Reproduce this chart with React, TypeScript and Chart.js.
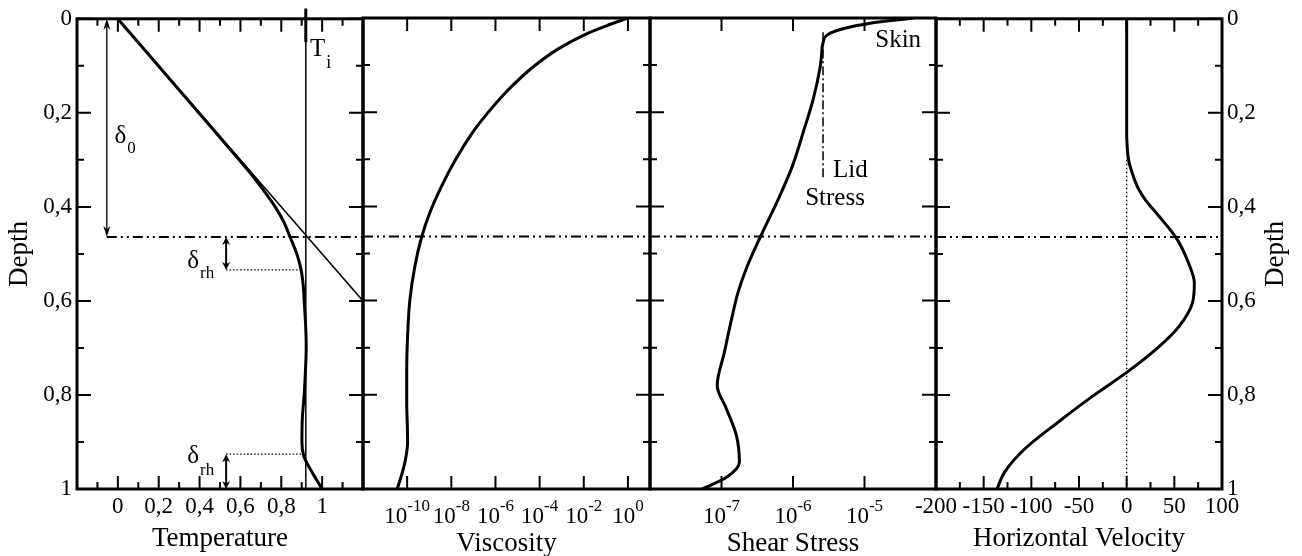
import React, { useEffect, useRef } from 'react';
import { Chart, registerables } from 'chart.js';

Chart.register(...registerables);

const SERIF = "'Liberation Serif', 'Times New Roman', Times, serif";
const CANVAS_W = 1302;
const CANVAS_H = 556;
const PLOT_TOP = 18;
const PLOT_BOTTOM = 489;
const PANEL_EDGES = [77, 363, 650, 936, 1222];

// ---------- Depth axis (shared) ----------
const depthTickLabels = [0, 0.2, 0.4, 0.6, 0.8, 1];
const depthMinorTicks = [0.1, 0.3, 0.5, 0.7, 0.9];
const interfaceDepth = 0.464;

// ---------- Temperature panel ----------
const temperatureDepth = [0, 0.05, 0.1, 0.15, 0.2, 0.25, 0.3, 0.33, 0.36, 0.4, 0.43, 0.464, 0.5, 0.534, 0.57, 0.6, 0.65, 0.7, 0.75, 0.8, 0.85, 0.9, 0.93, 0.96, 0.98, 1];
const temperature = [0, 0.099, 0.198, 0.297, 0.396, 0.495, 0.594, 0.652, 0.705, 0.77, 0.81, 0.843, 0.876, 0.897, 0.908, 0.912, 0.919, 0.922, 0.918, 0.912, 0.903, 0.901, 0.91, 0.945, 0.972, 1];
const conductiveDepth = [0, 0.6];
const conductiveTemperature = [0, 1.2];
const interiorTemperature = 0.92;
const tempTickLabels = [0, 0.2, 0.4, 0.6, 0.8, 1];
const tempMinorTicks = [-0.1, 0.1, 0.3, 0.5, 0.7, 0.9, 1.1];
const delta0ArrowT = -0.054;
const deltaRhArrowT = 0.53;
const deltaRhUpperDepth = [0.464, 0.534];
const deltaRhLowerDepth = [0.926, 1];
const deltaRhUpperCurveT = 0.9;
const deltaRhLowerCurveT = 0.917;

// ---------- Viscosity panel (log10 values) ----------
const viscosityDepth = [0, 0.016, 0.032, 0.064, 0.104, 0.14, 0.174, 0.21, 0.244, 0.3, 0.358, 0.413, 0.466, 0.527, 0.6, 0.675, 0.75, 0.816, 0.87, 0.9, 0.943, 0.97, 1];
const viscosityLog10 = [0, -0.95, -1.8, -3.1, -4.3, -5.15, -5.85, -6.5, -7.05, -7.8, -8.45, -8.97, -9.35, -9.65, -9.88, -9.98, -10.02, -10.02, -9.99, -9.98, -10.1, -10.25, -10.45];
const viscosityTickExponents = [-10, -8, -6, -4, -2, 0];

// ---------- Shear stress panel (log10 values) ----------
const shearDepth = [0, 0.011, 0.032, 0.053, 0.078, 0.104, 0.174, 0.244, 0.315, 0.386, 0.456, 0.527, 0.583, 0.64, 0.71, 0.78, 0.83, 0.887, 0.943, 0.975, 1];
const shearLog10 = [-4.31, -4.92, -5.48, -5.58, -5.6, -5.62, -5.72, -5.86, -6.01, -6.21, -6.43, -6.64, -6.77, -6.86, -6.96, -7.06, -6.93, -6.79, -6.75, -6.93, -7.27];
const shearTickExponents = [-7, -6, -5];
const lidStressLog10 = -5.58;
const lidStressDepth = [0.03, 0.34];

// ---------- Horizontal velocity panel ----------
const velocityDepth = [0, 0.1, 0.2, 0.244, 0.27, 0.3, 0.329, 0.36, 0.386, 0.42, 0.466, 0.52, 0.562, 0.604, 0.654, 0.697, 0.752, 0.803, 0.858, 0.915, 0.964, 1];
const velocity = [0, 0, 0, 0, 0.5, 2, 6, 12, 20, 34, 52, 65, 71, 69, 55, 34, 0, -36, -72, -107, -128, -136];
const velocityTickLabels = [-200, -150, -100, -50, 0, 50, 100];
const velocityMinorTicks = [-175, -125, -75, -25, 25, 75];
const zeroVelocityDepth = [0.3, 1];

// ---------- helpers ----------
const commaLabel = (v: number) => String(Number(v.toFixed(1))).replace('.', ',');

const series = (xs: number[], ys: number[], extra: any = {}) => ({
  data: xs.map((x, i) => ({ x, y: ys[i] })),
  borderColor: '#000',
  backgroundColor: '#000',
  pointRadius: 0,
  pointHoverRadius: 0,
  fill: false,
  borderWidth: 3,
  tension: 0,
  ...extra,
});

const curve = (xs: number[], ys: number[]) => series(xs, ys, { borderWidth: 3, cubicInterpolationMode: 'monotone' });

const DASH_DOT_DOT = [10, 4, 2, 4, 2, 4];

function interfaceLine(xFrom: number, xTo: number) {
  return series([xFrom, xTo], [interfaceDepth, interfaceDepth], { borderWidth: 2, borderDash: DASH_DOT_DOT });
}

function vArrow(ctx: CanvasRenderingContext2D, x: number, y1: number, y2: number, lw: number, hw: number, hl: number) {
  ctx.save();
  ctx.strokeStyle = '#000';
  ctx.fillStyle = '#000';
  ctx.lineWidth = lw;
  ctx.beginPath();
  ctx.moveTo(x, y1 + hl * 0.6);
  ctx.lineTo(x, y2 - hl * 0.6);
  ctx.stroke();
  ctx.beginPath();
  ctx.moveTo(x, y1);
  ctx.lineTo(x - hw, y1 + hl);
  ctx.lineTo(x, y1 + hl * 0.7);
  ctx.lineTo(x + hw, y1 + hl);
  ctx.closePath();
  ctx.fill();
  ctx.beginPath();
  ctx.moveTo(x, y2);
  ctx.lineTo(x - hw, y2 - hl);
  ctx.lineTo(x, y2 - hl * 0.7);
  ctx.lineTo(x + hw, y2 - hl);
  ctx.closePath();
  ctx.fill();
  ctx.restore();
}

function subText(ctx: CanvasRenderingContext2D, main: string, sub: string, x: number, y: number, size = 25, subSize = 17, drop = 10) {
  ctx.save();
  ctx.fillStyle = '#000';
  ctx.textAlign = 'left';
  ctx.textBaseline = 'alphabetic';
  ctx.font = `${size}px ${SERIF}`;
  ctx.fillText(main, x, y);
  const w = ctx.measureText(main).width;
  if (sub) {
    ctx.font = `${subSize}px ${SERIF}`;
    ctx.fillText(sub, x + w + 1, y + drop);
  }
  ctx.restore();
}

// power-of-ten tick labels: "10" with a raised exponent, centred on the tick
function drawPowerLabels(chart: any, exponents: number[]) {
  const { ctx, chartArea } = chart;
  const xs = chart.scales.x;
  ctx.save();
  ctx.fillStyle = '#000';
  ctx.textAlign = 'left';
  ctx.textBaseline = 'alphabetic';
  for (const e of exponents) {
    const px = xs.getPixelForValue(Math.pow(10, e));
    ctx.font = `23px ${SERIF}`;
    const wb = ctx.measureText('10').width;
    ctx.font = `17px ${SERIF}`;
    const expText = String(e);
    const we = ctx.measureText(expText).width;
    const x0 = px - (wb + we) / 2;
    ctx.font = `23px ${SERIF}`;
    ctx.fillText('10', x0, chartArea.bottom + 34);
    ctx.font = `17px ${SERIF}`;
    ctx.fillText(expText, x0 + wb, chartArea.bottom + 22);
  }
  ctx.restore();
}

type PanelSpec = {
  key: string;
  left: number;
  right: number;
  xType: 'linear' | 'logarithmic';
  xMin: number;
  xMax: number;
  xLabels: number[];
  xMajor: number[];
  xMinor: number[];
  xFormat: ((v: number) => string) | null;
  title: string;
  titlePad: number;
  yAxis: 'left' | 'right' | null;
  datasets: any[];
  draw?: (chart: any) => void;
};

const panels: PanelSpec[] = [
  {
    key: 'temperature',
    left: PANEL_EDGES[0],
    right: PANEL_EDGES[1],
    xType: 'linear',
    xMin: -0.2,
    xMax: 1.2,
    xLabels: tempTickLabels,
    xMajor: tempTickLabels,
    xMinor: tempMinorTicks,
    xFormat: commaLabel,
    title: 'Temperature',
    titlePad: 1,
    yAxis: 'left',
    datasets: [
      series(conductiveTemperature, conductiveDepth, { borderWidth: 1.5 }),
      series([interiorTemperature, interiorTemperature], [0, 1], { borderWidth: 1.5 }),
      series([interiorTemperature, interiorTemperature], [-0.022, 0.05], { borderWidth: 3, clip: false }),
      interfaceLine(delta0ArrowT, 1.2),
      series([deltaRhArrowT, deltaRhUpperCurveT], [deltaRhUpperDepth[1], deltaRhUpperDepth[1]], { borderWidth: 1.3, borderDash: [1.5, 2] }),
      series([deltaRhArrowT, deltaRhLowerCurveT], [deltaRhLowerDepth[0], deltaRhLowerDepth[0]], { borderWidth: 1.3, borderDash: [1.5, 2] }),
      curve(temperature, temperatureDepth),
    ],
    draw: (chart) => {
      const { ctx } = chart;
      const x = chart.scales.x;
      const y = chart.scales.y;
      vArrow(ctx, x.getPixelForValue(delta0ArrowT), y.getPixelForValue(0), y.getPixelForValue(interfaceDepth), 1.3, 3.5, 11);
      const rx = x.getPixelForValue(deltaRhArrowT);
      vArrow(ctx, rx, y.getPixelForValue(deltaRhUpperDepth[0]), y.getPixelForValue(deltaRhUpperDepth[1]), 2, 4, 8);
      vArrow(ctx, rx, y.getPixelForValue(deltaRhLowerDepth[0]), y.getPixelForValue(deltaRhLowerDepth[1]), 2, 4, 8);
      subText(ctx, 'T', 'i', x.getPixelForValue(0.94), y.getPixelForValue(0.079), 25, 18, 12);
      subText(ctx, 'δ', '0', x.getPixelForValue(-0.016), y.getPixelForValue(0.265), 25, 17, 10);
      subText(ctx, 'δ', 'rh', x.getPixelForValue(0.34), y.getPixelForValue(0.531), 25, 17, 10);
      subText(ctx, 'δ', 'rh', x.getPixelForValue(0.34), y.getPixelForValue(0.945), 25, 17, 12);
    },
  },
  {
    key: 'viscosity',
    left: PANEL_EDGES[1],
    right: PANEL_EDGES[2],
    xType: 'logarithmic',
    xMin: 1e-12,
    xMax: 10,
    xLabels: viscosityTickExponents.map((e) => Math.pow(10, e)),
    xMajor: viscosityTickExponents.map((e) => Math.pow(10, e)),
    xMinor: [],
    xFormat: null,
    title: 'Viscosity',
    titlePad: -4,
    yAxis: null,
    datasets: [
      interfaceLine(1e-12, 10),
      curve(viscosityLog10.map((e) => Math.pow(10, e)), viscosityDepth),
    ],
    draw: (chart) => drawPowerLabels(chart, viscosityTickExponents),
  },
  {
    key: 'shear',
    left: PANEL_EDGES[2],
    right: PANEL_EDGES[3],
    xType: 'logarithmic',
    xMin: 1e-8,
    xMax: 1e-4,
    xLabels: shearTickExponents.map((e) => Math.pow(10, e)),
    xMajor: shearTickExponents.map((e) => Math.pow(10, e)),
    xMinor: [],
    xFormat: null,
    title: 'Shear Stress',
    titlePad: -4,
    yAxis: null,
    datasets: [
      interfaceLine(1e-8, 1e-4),
      series([Math.pow(10, lidStressLog10), Math.pow(10, lidStressLog10)], lidStressDepth, { borderWidth: 1.5, borderDash: [9, 3, 2, 3] }),
      curve(shearLog10.map((e) => Math.pow(10, e)), shearDepth),
    ],
    draw: (chart) => {
      const { ctx } = chart;
      const x = chart.scales.x;
      const y = chart.scales.y;
      drawPowerLabels(chart, shearTickExponents);
      subText(ctx, 'Skin', '', x.getPixelForValue(Math.pow(10, -4.85)), y.getPixelForValue(0.062));
      subText(ctx, 'Lid', '', x.getPixelForValue(Math.pow(10, -5.44)), y.getPixelForValue(0.338));
      subText(ctx, 'Stress', '', x.getPixelForValue(Math.pow(10, -5.83)), y.getPixelForValue(0.397));
    },
  },
  {
    key: 'velocity',
    left: PANEL_EDGES[3],
    right: PANEL_EDGES[4],
    xType: 'linear',
    xMin: -200,
    xMax: 100,
    xLabels: velocityTickLabels,
    xMajor: velocityTickLabels,
    xMinor: velocityMinorTicks,
    xFormat: (v) => String(v),
    title: 'Horizontal Velocity',
    titlePad: 1,
    yAxis: 'right',
    datasets: [
      interfaceLine(-200, 100),
      series([0, 0], zeroVelocityDepth, { borderWidth: 1.5, borderDash: [1.5, 2.5] }),
      curve(velocity, velocityDepth),
    ],
    draw: (chart) => {
      const { ctx, chartArea } = chart;
      ctx.save();
      ctx.fillStyle = '#000';
      ctx.font = `27px ${SERIF}`;
      ctx.textAlign = 'center';
      ctx.textBaseline = 'middle';
      ctx.translate(chartArea.right + 54, (chartArea.top + chartArea.bottom) / 2);
      ctx.rotate(-Math.PI / 2);
      ctx.fillText('Depth', 0, 0);
      ctx.restore();
    },
  },
];

function buildChart(canvas: HTMLCanvasElement, spec: PanelSpec) {
  const yWidth = spec.yAxis === 'left' ? spec.left : spec.yAxis === 'right' ? CANVAS_W - spec.right : 0;
  const framePlugin = {
    id: 'frame_' + spec.key,
    afterDatasetsDraw(chart: any) {
      const { ctx, chartArea: a } = chart;
      const xs = chart.scales.x;
      const ys = chart.scales.y;
      ctx.save();
      ctx.strokeStyle = '#000';
      ctx.lineWidth = 2;
      ctx.beginPath();
      const seg = (x1: number, y1: number, x2: number, y2: number) => {
        ctx.moveTo(x1, y1);
        ctx.lineTo(x2, y2);
      };
      for (const v of spec.xMajor) {
        const p = xs.getPixelForValue(v);
        seg(p, a.bottom, p, a.bottom - 13);
        seg(p, a.top, p, a.top + 13);
      }
      for (const v of spec.xMinor) {
        const p = xs.getPixelForValue(v);
        seg(p, a.bottom, p, a.bottom - 7);
        seg(p, a.top, p, a.top + 7);
      }
      for (const v of depthTickLabels) {
        const p = ys.getPixelForValue(v);
        seg(a.left, p, a.left + 14, p);
        seg(a.right, p, a.right - 14, p);
      }
      for (const v of depthMinorTicks) {
        const p = ys.getPixelForValue(v);
        seg(a.left, p, a.left + 7, p);
        seg(a.right, p, a.right - 7, p);
      }
      ctx.stroke();
      ctx.lineWidth = 3;
      ctx.strokeRect(a.left, a.top, a.right - a.left, a.bottom - a.top);
      ctx.restore();
      if (spec.draw) spec.draw(chart);
    },
  };

  return new Chart(canvas, {
    type: 'line',
    data: { datasets: spec.datasets },
    options: {
      responsive: false,
      animation: false,
      devicePixelRatio: 1,
      indexAxis: 'y',
      events: [],
      layout: {
        padding: {
          left: spec.yAxis === 'left' ? 0 : spec.left,
          right: spec.yAxis === 'right' ? 0 : CANVAS_W - spec.right,
          top: PLOT_TOP,
          bottom: 0,
        },
      },
      plugins: { legend: { display: false }, tooltip: { enabled: false } },
      scales: {
        x: {
          type: spec.xType,
          position: 'bottom',
          min: spec.xMin,
          max: spec.xMax,
          afterBuildTicks: (s: any) => {
            s.ticks = spec.xLabels.map((v) => ({ value: v }));
          },
          afterFit: (s: any) => {
            s.height = CANVAS_H - PLOT_BOTTOM;
          },
          grid: { display: false, drawTicks: false },
          border: { display: false },
          ticks: {
            display: spec.xFormat !== null,
            color: '#000',
            font: { family: SERIF, size: 23 },
            padding: 4,
            autoSkip: false,
            maxRotation: 0,
            minRotation: 0,
            callback: (v: any) => (spec.xFormat ? spec.xFormat(Number(v)) : ''),
          },
          title: {
            display: true,
            text: spec.title,
            color: '#000',
            font: { family: SERIF, size: 27 },
            padding: { top: 0, bottom: spec.titlePad },
          },
        },
        y: {
          type: 'linear',
          display: spec.yAxis !== null,
          position: spec.yAxis === 'right' ? 'right' : 'left',
          reverse: true,
          min: 0,
          max: 1,
          afterBuildTicks: (s: any) => {
            s.ticks = depthTickLabels.map((v) => ({ value: v }));
          },
          afterFit: (s: any) => {
            s.width = yWidth;
          },
          grid: { display: false, drawTicks: false },
          border: { display: false },
          ticks: {
            color: '#000',
            font: { family: SERIF, size: 23 },
            padding: 5,
            autoSkip: false,
            callback: (v: any) => commaLabel(Number(v)),
          },
          title: {
            display: spec.yAxis === 'left',
            text: 'Depth',
            color: '#000',
            font: { family: SERIF, size: 27 },
            padding: { top: 4, bottom: 0 },
          },
        },
      },
    } as any,
    plugins: [framePlugin],
  });
}

function Panel({ spec }: { spec: PanelSpec }) {
  const ref = useRef<HTMLCanvasElement>(null);
  useEffect(() => {
    if (!ref.current) return;
    const chart = buildChart(ref.current, spec);
    return () => chart.destroy();
  }, [spec]);
  return (
    <canvas
      ref={ref}
      width={CANVAS_W}
      height={CANVAS_H}
      style={{ position: 'absolute', left: 0, top: 0, width: CANVAS_W, height: CANVAS_H }}
    />
  );
}

export default function App() {
  return (
    <div style={{ position: 'absolute', left: 0, top: 0, width: CANVAS_W, height: CANVAS_H, background: '#fff' }}>
      {panels.map((p) => (
        <Panel key={p.key} spec={p} />
      ))}
    </div>
  );
}
